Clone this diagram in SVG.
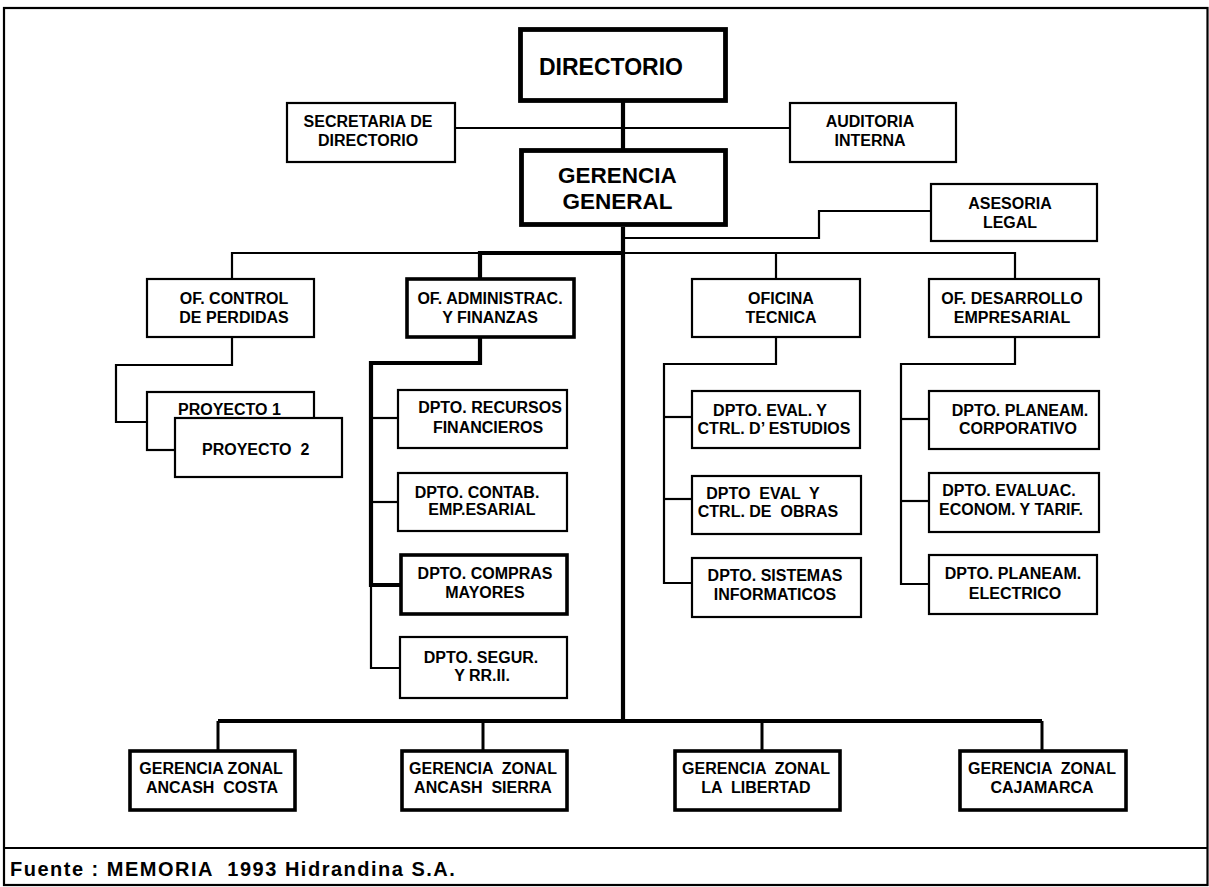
<svg xmlns="http://www.w3.org/2000/svg" xml:space="preserve" width="1209" height="887" viewBox="0 0 1209 887">
<style>
.b{fill:#fff;stroke:#000;stroke-width:2.2}
.bt{fill:#fff;stroke:#000;stroke-width:4.8}
.bm{fill:#fff;stroke:#000;stroke-width:3.6}
.t{font-family:"Liberation Sans",Arial,sans-serif;font-weight:bold;font-size:16px;fill:#000;text-anchor:middle;white-space:pre}
.big{font-size:22.5px}
.c{fill:none;stroke:#000;stroke-width:2.2}
.ck{fill:none;stroke:#000;stroke-width:4.2}
.frame{fill:none;stroke:#000;stroke-width:2.2}
</style>
<rect x="0" y="0" width="1209" height="887" fill="#fff"/>
<g id="frame">
<rect class="frame" x="4" y="8" width="1203.5" height="877"/>
<line class="frame" x1="4" y1="848" x2="1207.5" y2="848"/>
<text class="t" style="text-anchor:start;font-size:20px;letter-spacing:1.5px" x="10" y="876">Fuente : MEMORIA  1993 Hidrandina S.A.</text>
</g>
<g id="connectors">
<line class="c" x1="455" y1="128" x2="790" y2="128"/>
<line class="ck" x1="623" y1="102" x2="623" y2="149"/>
<line class="ck" x1="623" y1="227" x2="623" y2="721"/>
<polyline class="c" points="623,238 819,238 819,211 931,211"/>
<polyline class="c" points="232,279 232,253 480,253"/>
<polyline class="ck" points="480,279 480,253 623,253"/>
<polyline class="c" points="623,253 1015,253 1015,279"/>
<line class="c" x1="776" y1="253" x2="776" y2="279"/>
<polyline class="c" points="232,337 232,365 116,365 116,422 147,422"/>
<polyline class="ck" points="480,337 480,363 371,363 371,585 401,585"/>
<polyline class="c" points="371,585 371,668 400,668"/>
<line class="c" x1="371" y1="418" x2="398" y2="418"/>
<line class="c" x1="371" y1="502" x2="398" y2="502"/>
<polyline class="c" points="776,337 776,364 664,364 664,583 692,583"/>
<line class="c" x1="664" y1="417" x2="692" y2="417"/>
<line class="c" x1="664" y1="499" x2="692" y2="499"/>
<polyline class="c" points="1015,337 1015,364 901,364 901,584 929,584"/>
<line class="c" x1="901" y1="419" x2="929" y2="419"/>
<line class="c" x1="901" y1="501" x2="929" y2="501"/>
<line class="ck" x1="218" y1="721" x2="1042" y2="721"/>
<line class="c" style="stroke-width:3" x1="218" y1="721" x2="218" y2="751"/>
<line class="c" style="stroke-width:3" x1="483" y1="721" x2="483" y2="751"/>
<line class="c" style="stroke-width:3" x1="762" y1="721" x2="762" y2="751"/>
<line class="c" style="stroke-width:3" x1="1042" y1="721" x2="1042" y2="751"/>
</g>
<g id="directorio"><rect class="bt" x="520.5" y="29.5" width="205" height="71"/><text class="t" style="font-size:23px" x="611" y="75">DIRECTORIO</text></g>
<g id="secretaria"><rect class="b" x="287" y="103" width="168" height="59"/><text class="t" x="368" y="126.5">SECRETARIA DE</text><text class="t" x="368" y="145.5">DIRECTORIO</text></g>
<g id="auditoria"><rect class="b" x="790" y="103" width="166" height="59"/><text class="t" x="870" y="126.5">AUDITORIA</text><text class="t" x="870" y="145.5">INTERNA</text></g>
<g id="gerencia-general"><rect class="bt" x="521.5" y="150.5" width="204" height="74"/><text class="t big" x="617.5" y="182.5">GERENCIA</text><text class="t big" x="617.5" y="208.5">GENERAL</text></g>
<g id="asesoria"><rect class="b" x="931" y="184" width="166" height="57"/><text class="t" x="1010" y="209">ASESORIA</text><text class="t" x="1010" y="228">LEGAL</text></g>
<g id="of-control"><rect class="b" x="147" y="279" width="167" height="58"/><text class="t" x="234" y="303.5">OF. CONTROL</text><text class="t" x="234" y="322.5">DE PERDIDAS</text></g>
<g id="of-admin"><rect class="bm" x="407" y="279" width="167" height="58"/><text class="t" x="490" y="303.5">OF. ADMINISTRAC.</text><text class="t" x="490" y="322.5">Y FINANZAS</text></g>
<g id="oficina-tecnica"><rect class="b" x="692" y="279" width="168" height="58"/><text class="t" x="781" y="303.5">OFICINA</text><text class="t" x="781" y="322.5">TECNICA</text></g>
<g id="of-desarrollo"><rect class="b" x="929" y="279" width="170" height="58"/><text class="t" x="1012" y="303.5">OF. DESARROLLO</text><text class="t" x="1012" y="322.5">EMPRESARIAL</text></g>
<g id="proyecto1"><rect class="b" x="147" y="392" width="167" height="58"/><text class="t" style="text-anchor:start" x="178" y="414.5">PROYECTO 1</text></g>
<g id="proyecto2"><rect class="b" x="175" y="418" width="167" height="59"/><text class="t" style="text-anchor:start" x="202" y="454.5">PROYECTO  2</text></g>
<g id="dpto-recursos"><rect class="b" x="398" y="390" width="169" height="58"/><text class="t" x="490" y="412.5">DPTO. RECURSOS</text><text class="t" x="488" y="432.5">FINANCIEROS</text></g>
<g id="dpto-contab"><rect class="b" x="398" y="473" width="169" height="58"/><text class="t" x="477" y="498">DPTO. CONTAB.</text><text class="t" x="482" y="515">EMP.ESARIAL</text></g>
<g id="dpto-compras"><rect class="bm" x="401" y="555" width="166" height="59"/><text class="t" x="485" y="579">DPTO. COMPRAS</text><text class="t" x="485" y="598">MAYORES</text></g>
<g id="dpto-segur"><rect class="b" x="400" y="637" width="167" height="61"/><text class="t" x="481" y="663">DPTO. SEGUR.</text><text class="t" x="482" y="681">Y RR.II.</text></g>
<g id="dpto-estudios"><rect class="b" x="692" y="391" width="168" height="57"/><text class="t" x="770" y="415.5">DPTO. EVAL. Y</text><text class="t" x="774" y="433.5">CTRL. D’ ESTUDIOS</text></g>
<g id="dpto-obras"><rect class="b" x="692" y="476" width="169" height="58"/><text class="t" x="763" y="498.5">DPTO  EVAL  Y</text><text class="t" x="768" y="516.5">CTRL. DE  OBRAS</text></g>
<g id="dpto-sistemas"><rect class="b" x="692" y="558" width="169" height="59"/><text class="t" x="775" y="581">DPTO. SISTEMAS</text><text class="t" x="775" y="600">INFORMATICOS</text></g>
<g id="dpto-corporativo"><rect class="b" x="929" y="391" width="170" height="58"/><text class="t" x="1020" y="415.5">DPTO. PLANEAM.</text><text class="t" x="1018" y="433.5">CORPORATIVO</text></g>
<g id="dpto-tarif"><rect class="b" x="929" y="473" width="170" height="59"/><text class="t" x="1009" y="495.5">DPTO. EVALUAC.</text><text class="t" x="1011" y="514.5">ECONOM. Y TARIF.</text></g>
<g id="dpto-electrico"><rect class="b" x="929" y="555" width="168" height="59"/><text class="t" x="1013" y="579">DPTO. PLANEAM.</text><text class="t" x="1015" y="599">ELECTRICO</text></g>
<g id="gz-costa"><rect class="bm" x="130" y="751" width="165" height="59"/><text class="t" x="211" y="774">GERENCIA ZONAL</text><text class="t" x="212" y="793">ANCASH  COSTA</text></g>
<g id="gz-sierra"><rect class="bm" x="402" y="751" width="165" height="59"/><text class="t" x="483" y="774">GERENCIA  ZONAL</text><text class="t" x="483" y="793">ANCASH  SIERRA</text></g>
<g id="gz-libertad"><rect class="bm" x="675" y="751" width="165" height="59"/><text class="t" x="756" y="774">GERENCIA  ZONAL</text><text class="t" x="756" y="793">LA  LIBERTAD</text></g>
<g id="gz-cajamarca"><rect class="bm" x="960" y="751" width="166" height="59"/><text class="t" x="1042" y="774">GERENCIA  ZONAL</text><text class="t" x="1042" y="793">CAJAMARCA</text></g>
</svg>
